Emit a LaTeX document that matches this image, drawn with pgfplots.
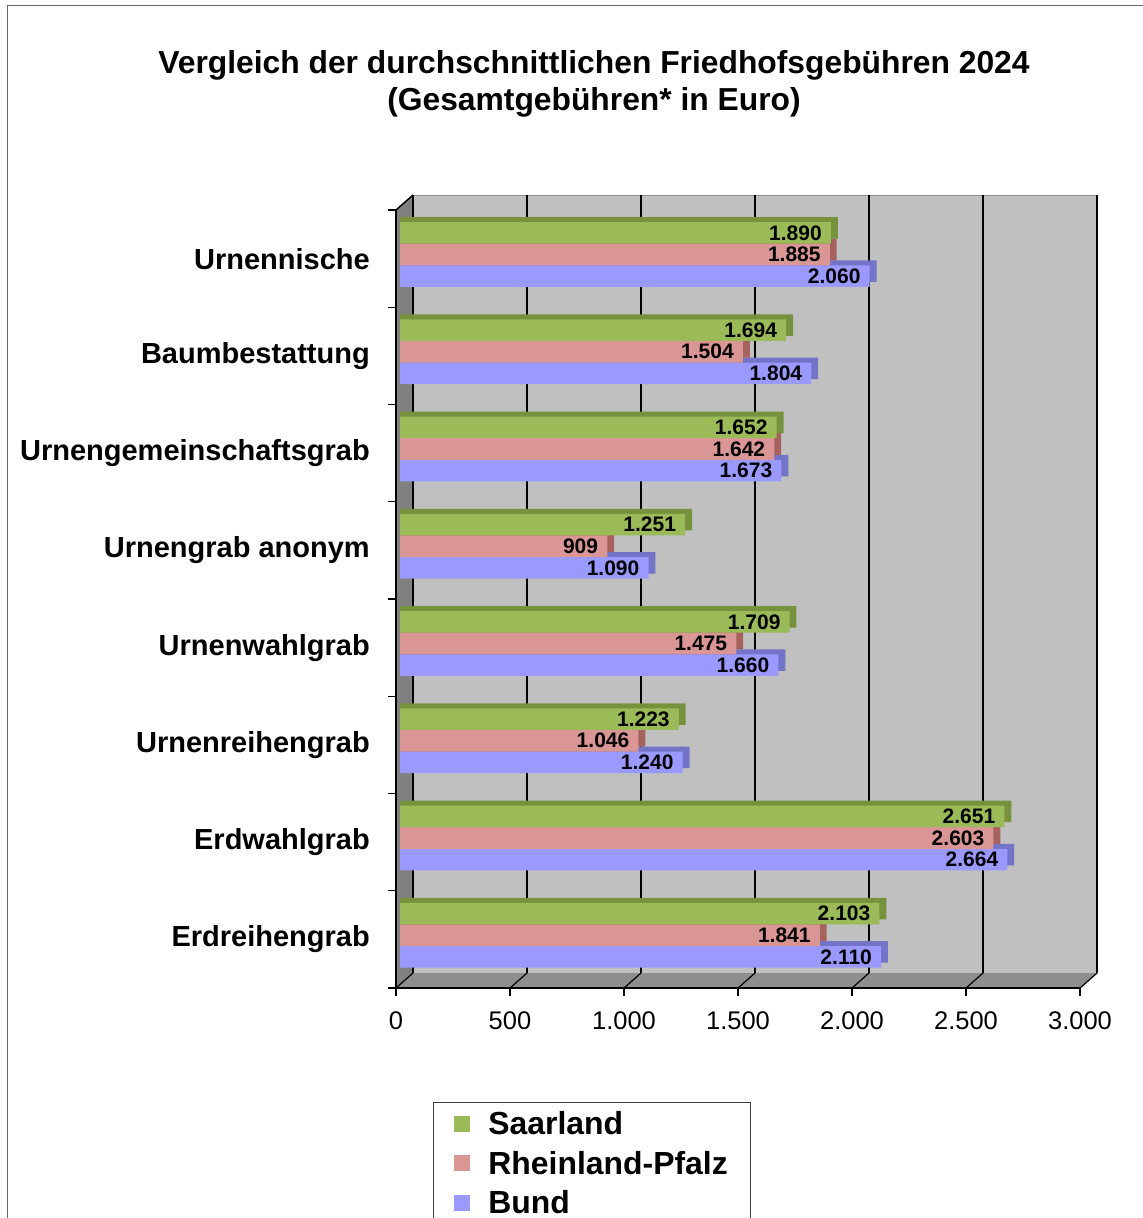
\documentclass[border=0pt]{standalone}
\usepackage{fontspec}
\setmainfont{Liberation Sans}
\usepackage{pgfplots}
\usepackage{pgfplotstable}
\pgfplotsset{compat=1.18}
\definecolor{saar}{HTML}{9BBB59}
\definecolor{saarD}{HTML}{76923C}
\definecolor{rp}{HTML}{D99694}
\definecolor{rpD}{HTML}{A5625F}
\definecolor{bund}{HTML}{9999FF}
\definecolor{bundD}{HTML}{7373C8}
\definecolor{wall}{HTML}{C0C0C0}
\definecolor{sidewall}{HTML}{808080}
\definecolor{floorc}{HTML}{8E8E8E}

\pgfplotstableread{
y saar rp bund
0 2103 1841 2110
1 2651 2603 2664
2 1223 1046 1240
3 1709 1475 1660
4 1251 909 1090
5 1652 1642 1673
6 1694 1504 1804
7 1890 1885 2060
}\data

\begin{document}
\begin{tikzpicture}
\path[use as bounding box] (0pt,0pt) rectangle (1143pt,-1218pt);
\draw[line width=1.2pt, black!60] (7.5pt,-1240pt) -- (7.5pt,-5.5pt) -- (1160pt,-5.5pt);
\node[font=\fontsize{31.8}{37}\selectfont\bfseries, anchor=base] at (594pt,-73pt) {Vergleich der durchschnittlichen Friedhofsgebühren 2024};
\node[font=\fontsize{31.8}{37}\selectfont\bfseries, anchor=base] at (594pt,-110pt) {(Gesamtgebühren* in Euro)};
\begin{axis}[
  at={(396pt,-988pt)}, anchor=south west,
  scale only axis, width=684pt, height=778pt,
  xmin=0, xmax=3000, ymin=-0.5, ymax=7.5,
  clip=false, axis on top,
  axis lines*=left,
  axis line style={line width=1.5pt, black},
  xtick={0,500,...,3000},
  ytick={0,...,7},
  yticklabels={Erdreihengrab, Erdwahlgrab, Urnenreihengrab, Urnenwahlgrab, Urnengrab anonym, Urnengemeinschaftsgrab, Baumbestattung, Urnennische},
  minor ytick={-0.5,0.5,...,7.5},
  tick align=outside,
  major tick length=8pt, minor tick length=8pt,
  major y tick style={draw=none},
  minor y tick style={black, line width=1.2pt},
  major x tick style={black, line width=1.2pt},
  xticklabel style={font=\fontsize{25.5}{30}\selectfont, anchor=north, inner sep=0pt, yshift=-15pt},
  yticklabel style={font=\fontsize{29}{34}\selectfont\bfseries, anchor=east, inner sep=0pt, xshift=-18pt},
  /pgf/number format/.cd, 1000 sep={.}, fixed, precision=0, assume math mode=true, /pgfplots/.cd,
  reverse legend,
  legend cell align=left,
  legend style={at={(axis description cs:0.054,-0.1465)}, anchor=north west,
    draw=black!75, line width=1pt, fill=white,
    font=\fontsize{31.9}{38}\selectfont\bfseries,
    inner xsep=21pt, inner ysep=7pt, row sep=11pt,
    /tikz/every odd column/.append style={column sep=16pt}},
]
% walls
\fill[wall] (axis cs:74.6,-0.346) rectangle (axis cs:3074.6,7.654);
\fill[sidewall] (axis cs:0,-0.5) -- (axis cs:74.6,-0.346) -- (axis cs:74.6,7.654) -- (axis cs:0,7.5) -- cycle;
\fill[floorc] (axis cs:0,-0.5) -- (axis cs:3000,-0.5) -- (axis cs:3074.6,-0.346) -- (axis cs:74.6,-0.346) -- cycle;
\draw[line width=0.8pt, black!45] (axis cs:74.6,7.654) -- (axis cs:3074.6,7.654);
\draw[line width=0.8pt, black!35] (axis cs:3000,-0.5) -- (axis cs:3074.6,-0.346);
\draw[line width=1.5pt] (axis cs:0,7.5) -- (axis cs:74.6,7.654);
\pgfplotsinvokeforeach{0,500,1000,1500,2000,2500,3000}{
  \draw[line width=1.5pt] (axis cs:#1+74.6,-0.346) -- (axis cs:#1+74.6,7.654);
  \draw[line width=1.2pt] (axis cs:#1,-0.5) -- (axis cs:#1+74.6,-0.346);
}
% Bund
\addplot[xbar, xshift=4pt, bar width=0.222, bar shift=-0.128, fill=bundD, draw=none, forget plot]
  table[x expr=\thisrow{bund}+30, y=y]{\data};
\addplot[xbar, xshift=4pt, bar width=0.222, bar shift=-0.179, fill=bund, draw=none,
  point meta=x, nodes near coords,
  nodes near coords style={anchor=east, font=\fontsize{21}{25}\selectfont\bfseries, inner sep=0pt, xshift=-9pt, yshift=-17.4pt},
  legend image code/.code={\fill[bund] (0pt,-8pt) rectangle (16pt,8pt);}]
  table[x=bund, y=y]{\data};
\addlegendentry{Bund}
% Rheinland-Pfalz
\addplot[xbar, xshift=4pt, bar width=0.222, bar shift=0.094, fill=rpD, draw=none, forget plot]
  table[x expr=\thisrow{rp}+30, y=y]{\data};
\addplot[xbar, xshift=4pt, bar width=0.222, bar shift=0.043, fill=rp, draw=none,
  point meta=x, nodes near coords,
  nodes near coords style={anchor=east, font=\fontsize{21}{25}\selectfont\bfseries, inner sep=0pt, xshift=-9pt, yshift=4.2pt},
  legend image code/.code={\fill[rp] (0pt,-8pt) rectangle (16pt,8pt);}]
  table[x=rp, y=y]{\data};
\addlegendentry{Rheinland-Pfalz}
% Saarland
\addplot[xbar, xshift=4pt, bar width=0.222, bar shift=0.316, fill=saarD, draw=none, forget plot]
  table[x expr=\thisrow{saar}+30, y=y]{\data};
\addplot[xbar, xshift=4pt, bar width=0.222, bar shift=0.265, fill=saar, draw=none,
  point meta=x, nodes near coords,
  nodes near coords style={anchor=east, font=\fontsize{21}{25}\selectfont\bfseries, inner sep=0pt, xshift=-9pt, yshift=25.8pt},
  legend image code/.code={\fill[saar] (0pt,-8pt) rectangle (16pt,8pt);}]
  table[x=saar, y=y]{\data};
\addlegendentry{Saarland}
\end{axis}
\end{tikzpicture}
\end{document}
